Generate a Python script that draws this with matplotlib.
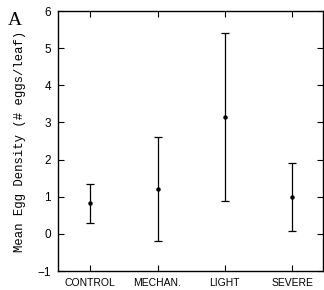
import numpy as np
import matplotlib.pyplot as plt

categories = ["CONTROL", "MECHAN.", "LIGHT", "SEVERE"]
means = [0.82, 1.22, 3.15, 1.0]
lower = [0.30, -0.18, 0.88, 0.08]
upper = [1.33, 2.62, 5.42, 1.91]

x = np.arange(1, len(categories) + 1)
means = np.array(means)
err = [means - np.array(lower), np.array(upper) - means]

fig = plt.figure(figsize=(3.24, 2.90), dpi=100)
ax = fig.add_axes([0.179, 0.0655, 0.818, 0.8965])

ax.errorbar(x, means, yerr=err, fmt="o", color="black", markersize=2.2,
            elinewidth=0.9, capsize=3, capthick=0.9)

ax.set_xlim(0.52, 4.46)
ax.set_ylim(-1, 6)
ax.set_xticks(x)
ax.set_xticklabels(categories, fontsize=7.5, family="Liberation Sans")
ax.set_yticks(range(-1, 7))
ax.set_yticklabels(["\u22121"] + [str(i) for i in range(0, 7)], fontsize=8.5,
                   family="Liberation Sans")
ax.tick_params(direction="in", top=True, right=True, length=4, width=0.8,
               pad=5)
for s in ax.spines.values():
    s.set_linewidth(1.0)

ax.set_ylabel("Mean Egg Density (# eggs/leaf)", family="Liberation Mono",
              fontsize=8.8, labelpad=8)
fig.text(0.025, 0.93, "A", family="Liberation Serif", fontsize=14,
         va="center", ha="left")

fig.savefig("out.png", dpi=100)
